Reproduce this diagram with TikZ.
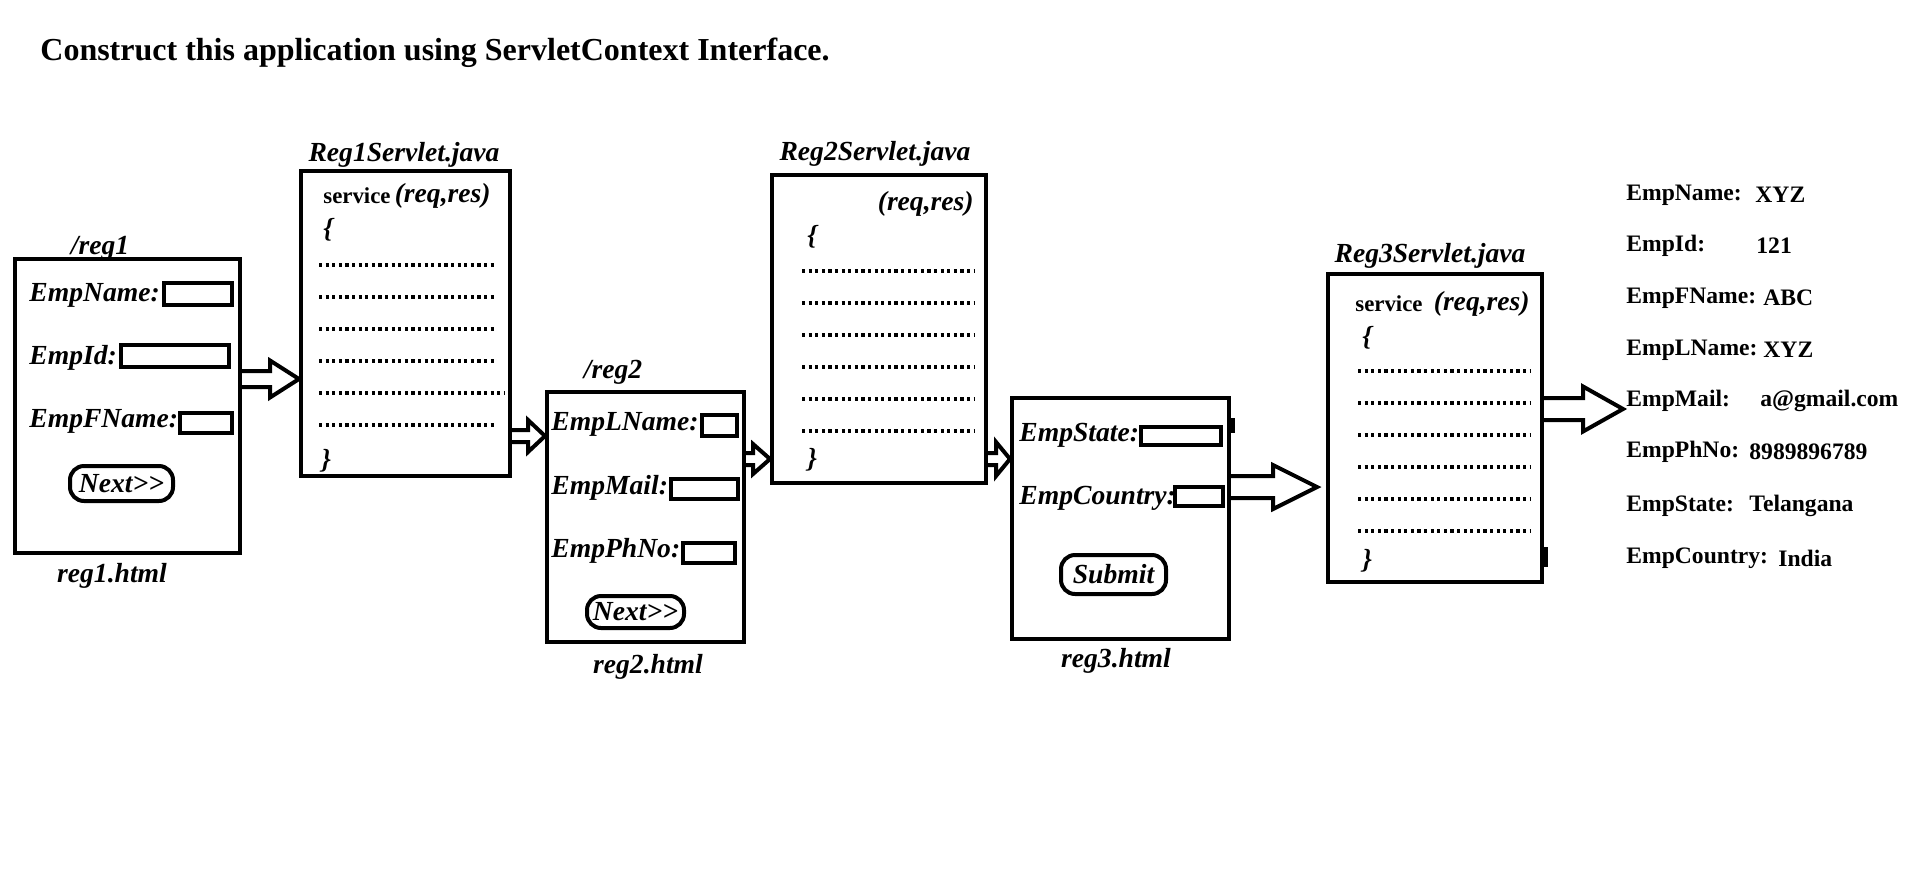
\documentclass[tikz,border=0pt]{standalone}
\usepackage{fontspec}
\setmainfont{Liberation Serif}
\usetikzlibrary{calc}

\tikzset{
  page/.style={draw, line width=2pt, inner sep=0pt},
  field/.style={draw, line width=1.8pt, inner sep=0pt},
  btn/.style={draw, line width=2pt, rounded corners=7pt, inner sep=0pt,
    font=\fontsize{13.8pt}{16pt}\selectfont\bfseries\itshape},
  lbl/.style={inner sep=0pt, yshift=-1.5pt, font=\fontsize{13.8pt}{16pt}\selectfont\bfseries\itshape},
  srv/.style={inner sep=0pt, yshift=-1.5pt, font=\fontsize{11.4pt}{14pt}\selectfont\bfseries},
  lst/.style={inner sep=0pt, yshift=-1.5pt, anchor=west, font=\fontsize{11.8pt}{14pt}\selectfont\bfseries},
  dotrow/.style={line width=1.8pt, dash pattern=on 1.6pt off 1.7pt},
  blk/.style={line width=2pt},
}

\begin{document}
\begin{tikzpicture}[x=0.5pt,y=-0.5pt]
    \useasboundingbox (0,0) rectangle (1914,873);

    \node[font=\fontsize{16pt}{19pt}\selectfont\bfseries, inner sep=0pt, anchor=west] (T) at (40,53)
      {Construct this application using ServletContext Interface.};

    % pages and servlets
    \node[page, minimum width=112.5pt, minimum height=147pt] (F1) at (127.5,406) {};
    \node[page, minimum width=104.5pt, minimum height=152.5pt] (S1) at (405.5,323.5) {};
    \node[page, minimum width=98.5pt, minimum height=125pt] (F2) at (645.5,517) {};
    \node[page, minimum width=107pt, minimum height=154pt] (S2) at (879,329) {};
    \node[page, minimum width=108.5pt, minimum height=120.5pt] (F3) at (1120.5,518.5) {};
    \node[page, minimum width=107pt, minimum height=154pt] (S3) at (1435,428) {};

    % input fields
    \node[field, minimum width=34pt, minimum height=11pt] (E11) at (198,294) {};
    \node[field, minimum width=54pt, minimum height=11pt] (E12) at (175,356) {};
    \node[field, minimum width=26pt, minimum height=10pt] (E13) at (206,423) {};
    \node[field, minimum width=17.5pt, minimum height=10.5pt] (E21) at (719.5,425.5) {};
    \node[field, minimum width=33.5pt, minimum height=10pt] (E22) at (704.5,489) {};
    \node[field, minimum width=26pt, minimum height=10pt] (E23) at (709,553) {};
    \node[field, minimum width=40pt, minimum height=9pt] (E31) at (1181,436) {};
    \node[field, minimum width=24pt, minimum height=9.5pt] (E32) at (1199,496.5) {};

    % buttons
    \node[btn, minimum width=51.5pt, minimum height=17.5pt] (B1) at (121.5,483.5) {Next>{}>};
    \node[btn, minimum width=48.5pt, minimum height=16pt] (B2) at (635.5,612) {Next>{}>};
    \node[btn, minimum width=52.5pt, minimum height=19.5pt] (B3) at (1113.5,574.5) {Submit};

    % arrows
    \coordinate (H1) at ($(S1.west)+(-29,0)$);
    \coordinate (H2) at ($(F2.west)+(-17,0)$);
    \coordinate (H3) at ($(S2.west)+(-17,0)$);
    \coordinate (H4) at ($(F3.west)+(-14,0)$);
    \coordinate (T5) at (1317,487);
    \coordinate (H5) at ($(T5)+(-44,0)$);
    \coordinate (T6) at (1623,409);
    \coordinate (H6) at ($(T6)+(-40,0)$);

    \draw[blk] (F1.east |- 0,371) -- (H1 |- 0,371) -- (H1 |- 0,360.5) -- (S1.west |- 0,379)
      -- (H1 |- 0,397.5) -- (H1 |- 0,387) -- (F1.east |- 0,387);
    \draw[blk] (S1.east |- 0,430) -- (H2 |- 0,430) -- (H2 |- 0,420) -- (F2.west |- 0,436)
      -- (H2 |- 0,452) -- (H2 |- 0,442) -- (S1.east |- 0,442);
    \draw[blk] (F2.east |- 0,453) -- (H3 |- 0,453) -- (H3 |- 0,444) -- (S2.west |- 0,459)
      -- (H3 |- 0,474) -- (H3 |- 0,465) -- (F2.east |- 0,465);
    \draw[blk] (S2.east |- 0,453) -- (H4 |- 0,453) -- (H4 |- 0,442) -- (F3.west |- 0,459)
      -- (H4 |- 0,476) -- (H4 |- 0,465) -- (S2.east |- 0,465);
    \draw[blk] (F3.east |- 0,476) -- (H5 |- 0,476) -- (H5 |- 0,465) -- (T5)
      -- (H5 |- 0,509) -- (H5 |- 0,498) -- (F3.east |- 0,498);
    \draw[blk] (S3.east |- 0,398) -- (H6 |- 0,398) -- (H6 |- 0,386.5) -- (T6)
      -- (H6 |- 0,431.5) -- (H6 |- 0,420) -- (S3.east |- 0,420);

    % small marks on the edges
    \draw[line width=2.5pt] (1232,418) -- (1232,433);
    \draw[line width=2.5pt] (1545,547) -- (1545,567);

    % dotted code lines
    \draw[dotrow] (319,265) -- (497,265);
    \draw[dotrow] (319,297) -- (497,297);
    \draw[dotrow] (319,329) -- (497,329);
    \draw[dotrow] (319,361) -- (497,361);
    \draw[dotrow] (319,393) -- (505,393);
    \draw[dotrow] (319,425) -- (497,425);

    \draw[dotrow] (802,271) -- (974,271);
    \draw[dotrow] (802,303) -- (974,303);
    \draw[dotrow] (802,335) -- (974,335);
    \draw[dotrow] (802,367) -- (974,367);
    \draw[dotrow] (802,399) -- (974,399);
    \draw[dotrow] (802,431) -- (974,431);

    \draw[dotrow] (1358,371) -- (1530,371);
    \draw[dotrow] (1358,403) -- (1530,403);
    \draw[dotrow] (1358,435) -- (1530,435);
    \draw[dotrow] (1358,467) -- (1530,467);
    \draw[dotrow] (1358,499) -- (1530,499);
    \draw[dotrow] (1358,531) -- (1530,531);

%labels
    \node[lbl] (P1) at (100,245) {/reg1};
    \node[lbl] (Q1) at (112,573) {reg1.html};
    \node[lbl] (N1) at (404,152) {Reg1Servlet.java};
    \node[lbl] (P2) at (613,369) {/reg2};
    \node[lbl] (Q2) at (648,664) {reg2.html};
    \node[lbl] (N2) at (875,151) {Reg2Servlet.java};
    \node[lbl] (Q3) at (1116,658) {reg3.html};
    \node[lbl] (N3) at (1430,253) {Reg3Servlet.java};

    \node[lbl, anchor=west] (L11) at (29,292) {EmpName:};
    \node[lbl, anchor=west] (L12) at (29,355) {EmpId:};
    \node[lbl, anchor=west] (L13) at (29,418) {EmpFName:};
    \node[lbl, anchor=west] (L21) at (551,421) {EmpLName:};
    \node[lbl, anchor=west] (L22) at (551,485) {EmpMail:};
    \node[lbl, anchor=west] (L23) at (551,548) {EmpPhNo:};
    \node[lbl, anchor=west] (L31) at (1019,432) {EmpState:};
    \node[lbl, anchor=west] (L32) at (1019,495) {EmpCountry:};

    \node[srv, anchor=west] (C1) at (323,193) {service};
    \node[lbl, anchor=east] (R1) at (491,193) {(req,res)};
    \node[lbl, anchor=west] (O1) at (323,227) {\{};
    \node[lbl, anchor=west] (Z1) at (321,458) {\}};

    \node[lbl, anchor=east] (R2) at (974,201) {(req,res)};
    \node[lbl, anchor=west] (O2) at (807,234) {\{};
    \node[lbl, anchor=west] (Z2) at (807,457) {\}};

    \node[srv, anchor=west] (C3) at (1355,301) {service};
    \node[lbl, anchor=east] (R3) at (1530,301) {(req,res)};
    \node[lbl, anchor=west] (O3) at (1362,335) {\{};
    \node[lbl, anchor=west] (Z3) at (1362,558) {\}};

    \node[lst] (K1) at (1626,192) {EmpName:};
    \node[lst] (K2) at (1626,243) {EmpId:};
    \node[lst] (K3) at (1626,295) {EmpFName:};
    \node[lst] (K4) at (1626,347) {EmpLName:};
    \node[lst] (K5) at (1626,398) {EmpMail:};
    \node[lst] (K6) at (1626,449) {EmpPhNo:};
    \node[lst] (K7) at (1626,503) {EmpState:};
    \node[lst] (K8) at (1626,555) {EmpCountry:};

    \node[lst] (V1) at (1755,192) {XYZ};
    \node[lst] (V2) at (1756,243) {121};
    \node[lst] (V3) at (1763,295) {ABC};
    \node[lst] (V4) at (1763,347) {XYZ};
    \node[lst] (V5) at (1760,398) {a@gmail.com};
    \node[lst] (V6) at (1749,449) {8989896789};
    \node[lst] (V7) at (1749,503) {Telangana};
    \node[lst] (V8) at (1778,555) {India};

\end{tikzpicture}
\end{document}
